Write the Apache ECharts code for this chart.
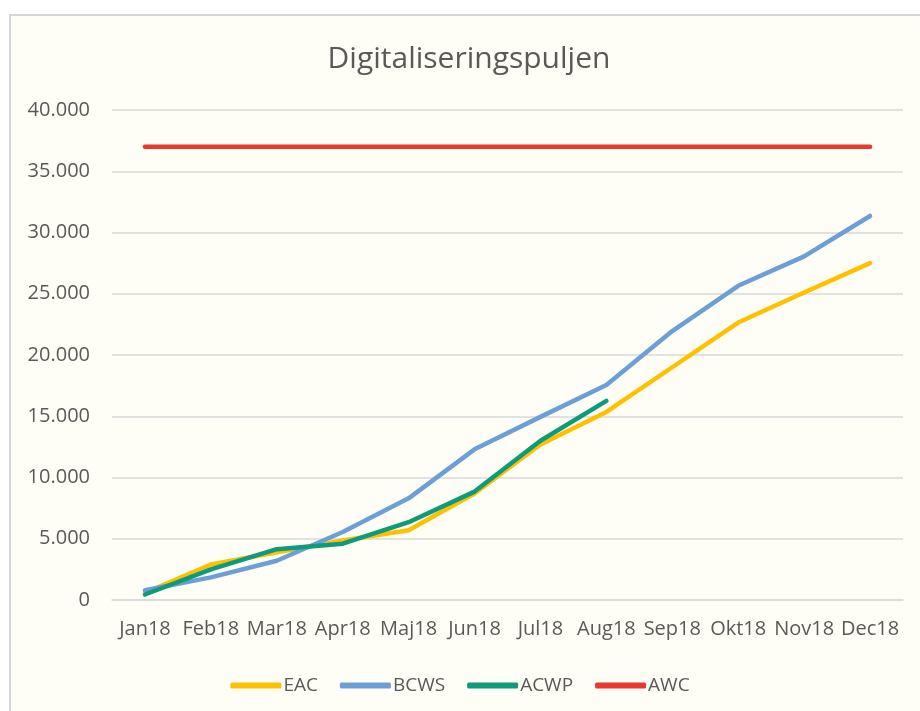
<!DOCTYPE html>
<html>
<head>
<meta charset="utf-8">
<script src="https://cdn.jsdelivr.net/npm/echarts@6/dist/echarts.min.js"></script>
<style>
html,body{margin:0;padding:0;background:#ffffff;}
#chart{width:920px;height:711px;}
</style>
</head>
<body>
<div id="chart"></div>
<script>
const categories = ['Jan18','Feb18','Mar18','Apr18','Maj18','Jun18','Jul18','Aug18','Sep18','Okt18','Nov18','Dec18'];
const eac  = [580, 2900, 3900, 4850, 5700, 8700, 12700, 15350, 19000, 22650, 25100, 27500];
const bcws = [800, 1850, 3200, 5550, 8300, 12300, 14950, 17550, 21950, 25650, 28050, 31350];
const acwp = [450, 2500, 4150, 4600, 6350, 8850, 13000, 16250];
const awc  = [37000, 37000, 37000, 37000, 37000, 37000, 37000, 37000, 37000, 37000, 37000, 37000];
const yTicks = {min: 0, max: 40000, interval: 5000};
const titleText = 'Digitaliseringspuljen';

const font = '"Open Sans", "Noto Sans", sans-serif';
const chart = echarts.init(document.getElementById('chart'), null, {renderer: 'canvas'});

function fmt(v){
  return String(v).replace(/\B(?=(\d{3})+(?!\d))/g, '.');
}
function lineSeries(name, data, color){
  return {
    name: name, type: 'line', data: data, symbol: 'none',
    lineStyle: {width: 4.5, color: color, cap: 'round', join: 'round'},
    itemStyle: {color: color}
  };
}

chart.setOption({
  backgroundColor: '#ffffff',
  animation: false,
  graphic: [
    {
      type: 'rect', z: -10, silent: true,
      shape: {x: 10, y: 15, width: 930, height: 720},
      style: {fill: '#fefef6', stroke: '#d6d6d6', lineWidth: 2}
    },
    {
      type: 'text', silent: true,
      style: {
        text: titleText, x: 469, y: 59.5, textAlign: 'center', textVerticalAlign: 'middle',
        fontFamily: font, fontSize: 30, fill: '#595959'
      }
    }
  ],
  legend: {
    top: 671, left: 'center', itemGap: 22, itemWidth: 51, itemHeight: 6,
    icon: 'roundRect',
    textStyle: {fontFamily: font, fontSize: 19, color: '#595959', padding: [0,0,0,-3]},
    data: ['EAC','BCWS','ACWP','AWC']
  },
  grid: {left: 112, right: 17, top: 110, bottom: 111, containLabel: false},
  xAxis: {
    type: 'category', data: categories, boundaryGap: true,
    axisLine: {show: true, lineStyle: {color: '#d9d9d9', width: 1.5}},
    axisTick: {show: false},
    axisLabel: {fontFamily: font, fontSize: 20, color: '#595959', margin: 19, interval: 0}
  },
  yAxis: {
    type: 'value', min: yTicks.min, max: yTicks.max, interval: yTicks.interval,
    axisLine: {show: false}, axisTick: {show: false},
    splitLine: {lineStyle: {color: '#d9d9d9', width: 1.5}},
    axisLabel: {fontFamily: font, fontSize: 20, color: '#595959', margin: 22, formatter: fmt}
  },
  series: [
    lineSeries('EAC', eac, '#ffc000'),
    lineSeries('BCWS', bcws, '#6b9fd6'),
    lineSeries('ACWP', acwp, '#0e9b7c'),
    lineSeries('AWC', awc, '#e8392c')
  ]
});
</script>
</body>
</html>
